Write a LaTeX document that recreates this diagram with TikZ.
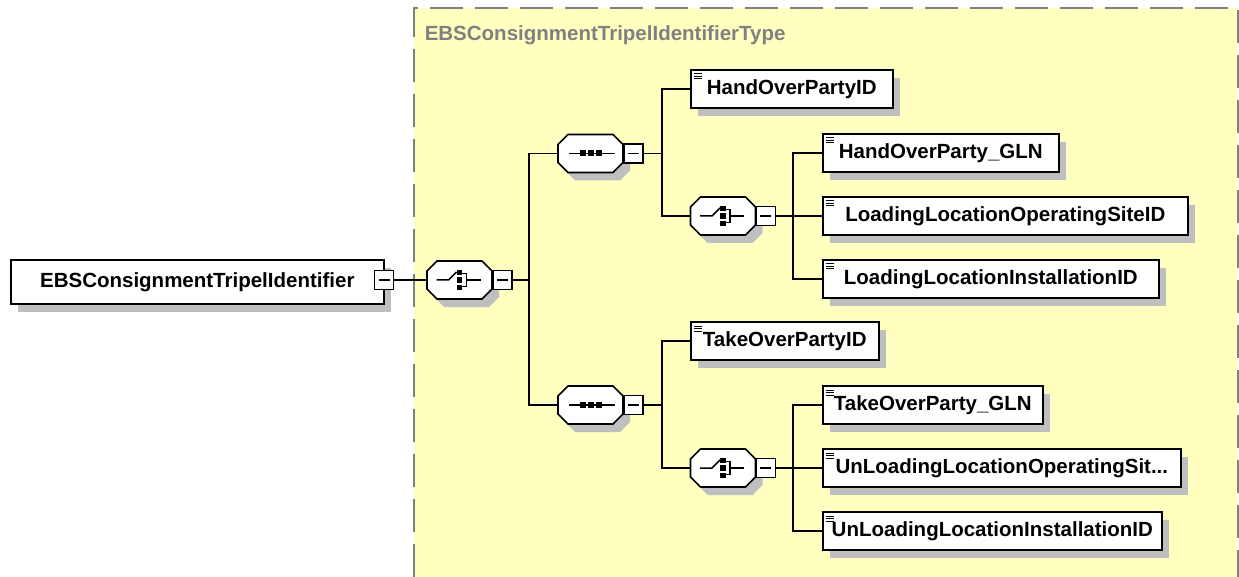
\documentclass[tikz,border=0pt]{standalone}
\usepackage{fontspec}
\setmainfont{Liberation Sans}
\usetikzlibrary{shadows, positioning}
\definecolor{typefill}{RGB}{255,255,192}
\definecolor{typeline}{RGB}{128,128,128}

% octagon shape for the compositors
\newdimen\octxa \newdimen\octya \newdimen\octxb \newdimen\octyb
\newdimen\octcut \octcut=10pt
\makeatletter
\pgfdeclareshape{octagonbox}{%
  \inheritsavedanchors[from=rectangle]%
  \inheritanchorborder[from=rectangle]%
  \inheritanchor[from=rectangle]{center}%
  \inheritanchor[from=rectangle]{north}%
  \inheritanchor[from=rectangle]{south}%
  \inheritanchor[from=rectangle]{east}%
  \inheritanchor[from=rectangle]{west}%
  \inheritanchor[from=rectangle]{north east}%
  \inheritanchor[from=rectangle]{north west}%
  \inheritanchor[from=rectangle]{south east}%
  \inheritanchor[from=rectangle]{south west}%
  \backgroundpath{%
    \southwest \octxa=\pgf@x \octya=\pgf@y
    \northeast \octxb=\pgf@x \octyb=\pgf@y
    \pgfpathmoveto{\pgfqpoint{\dimexpr\octxa+\octcut\relax}{\octyb}}%
    \pgfpathlineto{\pgfqpoint{\dimexpr\octxb-\octcut\relax}{\octyb}}%
    \pgfpathlineto{\pgfqpoint{\octxb}{\dimexpr\octyb-\octcut\relax}}%
    \pgfpathlineto{\pgfqpoint{\octxb}{\dimexpr\octya+\octcut\relax}}%
    \pgfpathlineto{\pgfqpoint{\dimexpr\octxb-\octcut\relax}{\octya}}%
    \pgfpathlineto{\pgfqpoint{\dimexpr\octxa+\octcut\relax}{\octya}}%
    \pgfpathlineto{\pgfqpoint{\octxa}{\dimexpr\octya+\octcut\relax}}%
    \pgfpathlineto{\pgfqpoint{\octxa}{\dimexpr\octyb-\octcut\relax}}%
    \pgfpathclose
  }%
}
\makeatother

\begin{document}
\begin{tikzpicture}[x=1pt, y=-1pt, line width=1.5pt,
            boxshadow/.style={drop shadow={shadow xshift=7pt, shadow yshift=-8pt, fill=black!25, opacity=1}},
            rootbox/.style={rectangle, draw, fill=white, line width=1.6pt, minimum height=44pt, inner xsep=0pt, anchor=west, font=\fontsize{20.5}{24}\selectfont\bfseries, boxshadow},
            elem/.style={rootbox, minimum height=38pt,
                path picture={\foreach \k in {4,6.5,9} \draw[line width=1pt] ([shift={(3pt,-\k pt)}]path picture bounding box.north west) -- ++(8pt,0pt);}},
            comp/.style={octagonbox, draw, fill=white, line width=1.6pt, minimum width=65pt, minimum height=38pt, inner sep=0pt, outer sep=0pt, boxshadow},
            seqcomp/.style={comp, path picture={
                \coordinate (pc) at (path picture bounding box.center);
                \draw[line width=1.5pt] ([xshift=-22pt]pc) -- ([xshift=24pt]pc);
                \foreach \dx in {-8,0,8} \fill[black] ([shift={(\dx pt-3pt,-3pt)}]pc) rectangle ++(6pt,6pt);}},
            choicecomp/.style={comp, path picture={
                \coordinate (pc) at (path picture bounding box.center);
                \draw[line width=1.5pt] ([xshift=-23pt]pc) -- ++(12pt,0pt) -- ++(8pt,8pt);
                \foreach \dy in {7.5,0,-7.5} \fill[black] ([shift={(-3pt,\dy pt-2.75pt)}]pc) rectangle ++(5.5pt,5.5pt);
                \draw[line width=1.5pt] ([shift={(2.5pt,6.5pt)}]pc) -- ++(4.5pt,0pt) -- ++(0pt,-13pt) -- ++(-4.5pt,0pt);
                \draw[line width=1.5pt] ([xshift=7pt]pc) -- ++(14pt,0pt);}},
            minus/.style={rectangle, draw, fill=white, line width=1.5pt, minimum size=19pt, inner sep=0pt,
                path picture={\draw[line width=1.5pt] ([xshift=4pt]path picture bounding box.west) -- ([xshift=-4pt]path picture bounding box.east);}}
        ]
            \useasboundingbox (0,0) rectangle (1239,577);
            \fill[white] (0,0) rectangle (1239,577);

            % complex type area
            \fill[typefill] (414,8) rectangle (1238,577);
            \draw[typeline, line width=2pt, dash pattern=on 33pt off 12pt] (414,577) -- (414,8) -- (1238,8) -- (1238,577);
            \node[anchor=west, inner sep=0pt, text=typeline, font=\fontsize{20.5}{24}\selectfont\bfseries] (typelbl) at (424,35) {EBSConsignmentTripelIdentifierType};

            % root element and main choice
            \node[rootbox, minimum width=373pt] (root) at (10,282) {EBSConsignmentTripelIdentifier};
            \node[minus] (rootm) at (384,280) {};
            \node[choicecomp] (chc) at (459.5,280) {};
            \node[minus, right=0pt of chc] (chcm) {};
            \coordinate (bus1) at (529,280);

            % hand over
            \node[seqcomp] (seqh) at (590.5,153.5) {};
            \node[minus, right=0pt of seqh] (seqhm) {};
            \coordinate (bus2) at (662,153.5);
            \node[elem, minimum width=202pt] (hop) at (690,89) {HandOverPartyID};
            \node[choicecomp] (chh) at (723,216) {};
            \node[minus, right=0pt of chh] (chhm) {};
            \coordinate (bus3) at (793,216);
            \node[elem, minimum width=236pt] (hgln) at (822,153) {HandOverParty\_GLN};
            \node[elem, minimum width=365pt] (hops) at (822,216) {LoadingLocationOperatingSiteID};
            \node[elem, minimum width=336pt] (hins) at (822,279) {LoadingLocationInstallationID};

            % take over
            \node[seqcomp] (seqt) at (590.5,405) {};
            \node[minus, right=0pt of seqt] (seqtm) {};
            \coordinate (bus4) at (662,405);
            \node[elem, minimum width=188pt] (top) at (690,341) {TakeOverPartyID};
            \node[choicecomp] (cht) at (723,468) {};
            \node[minus, right=0pt of cht] (chtm) {};
            \coordinate (bus5) at (793,468);
            \node[elem, minimum width=220pt] (tgln) at (822,405) {TakeOverParty\_GLN};
            \node[elem, minimum width=358pt] (tops) at (822,468) {UnLoadingLocationOperatingSit...};
            \node[elem, minimum width=339pt] (tins) at (822,531) {UnLoadingLocationInstallationID};

            \draw (rootm) -- (chc);
            \draw (chcm) -- (bus1);
            \draw (seqh) -| (bus1) |- (seqt);
            \draw (seqhm) -- (bus2);
            \draw (hop) -| (bus2) |- (chh);
            \draw (chhm) -- (hops);
            \draw (hgln) -| (bus3) |- (hins);
            \draw (seqtm) -- (bus4);
            \draw (top) -| (bus4) |- (cht);
            \draw (chtm) -- (tops);
            \draw (tgln) -| (bus5) |- (tins);
        \end{tikzpicture}
\end{document}
